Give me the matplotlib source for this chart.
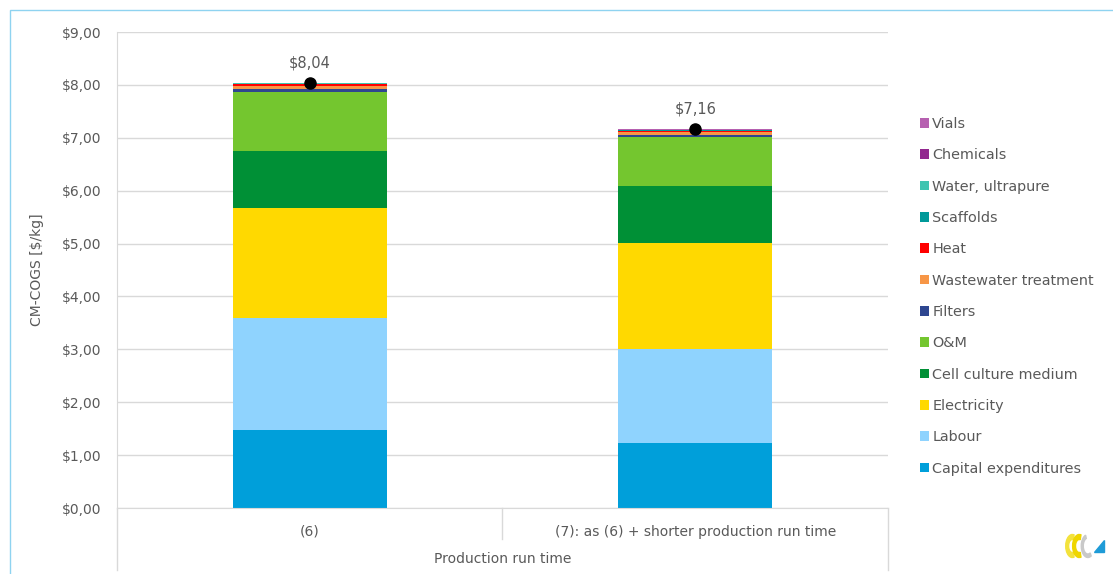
import matplotlib.pyplot as plt
from matplotlib.patches import Rectangle, Wedge, Polygon

categories = ['(6)', '(7): as (6) + shorter production run time']
components = ['Capital expenditures', 'Labour', 'Electricity', 'Cell culture medium', 'O&M',
              'Filters', 'Wastewater treatment', 'Heat', 'Scaffolds', 'Water, ultrapure',
              'Chemicals', 'Vials']
colors = ['#009FDA', '#8FD3FE', '#FFD900', '#009036', '#74C62F',
          '#2E4690', '#F79646', '#FF0000', '#009999', '#40C4B0',
          '#92278F', '#B660B0']

capex = [1.48, 1.22]
labour = [2.12, 1.78]
electricity = [2.07, 2.01]
medium = [1.08, 1.08]
om = [1.12, 0.93]
filters = [0.05, 0.04]
wastewater = [0.05, 0.04]
heat = [0.04, 0.03]
scaffolds = [0.01, 0.01]
water = [0.01, 0.01]
chemicals = [0.005, 0.005]
vials = [0.005, 0.005]
totals = [8.04, 7.16]
total_labels = ['$8,04', '$7,16']

series = [capex, labour, electricity, medium, om, filters, wastewater, heat,
          scaffolds, water, chemicals, vials]

grey = '#595959'
plt.rcParams['font.family'] = 'DejaVu Sans'
plt.rcParams['font.size'] = 10

fig = plt.figure(figsize=(11.13, 5.74), dpi=100)
ax = fig.add_axes([117 / 1113, 66 / 574, 771 / 1113, 476 / 574])

x = list(range(len(categories)))
bottom = [0.0] * len(categories)
handles = []
for name, vals, c in zip(components, series, colors):
    b = ax.bar(x, vals, 0.4, bottom=bottom, color=c, label=name, zorder=2)
    handles.append(b)
    bottom = [bt + v for bt, v in zip(bottom, vals)]

ax.plot(x, totals, 'o', color='black', markersize=8, zorder=3)
for xi, t, lab in zip(x, totals, total_labels):
    ax.annotate(lab, (xi, t), xytext=(0, 9), textcoords='offset points',
                ha='center', va='bottom', color=grey, fontsize=10.5)

ax.set_xlim(-0.5, 1.5)
ax.set_ylim(0, 9)
ax.set_yticks(range(10))
ax.set_yticklabels(['$%d,00' % v for v in range(10)])
ax.yaxis.grid(True, color='#D9D9D9', linewidth=1, zorder=0)
ax.set_axisbelow(True)
ax.tick_params(axis='y', length=0, colors=grey, pad=11, labelsize=10)
ax.tick_params(axis='x', length=0, colors=grey, pad=12, labelsize=10)
ax.set_xticks(x)
ax.set_xticklabels(categories)
for s in ['top', 'right']:
    ax.spines[s].set_visible(False)
ax.spines['left'].set_color('#D9D9D9')
ax.spines['bottom'].set_color('#D9D9D9')
ax.set_ylabel('CM-COGS [$/kg]', color=grey, fontsize=10, labelpad=13)

# category separators below the axis
for xs, yend in [(0, -0.13), (0.5, -0.065), (1, -0.13)]:
    ax.plot([xs, xs], [0, yend], transform=ax.transAxes, color='#D9D9D9',
            linewidth=1, clip_on=False)
ax.text(0.5, -0.107, 'Production run time', transform=ax.transAxes,
        ha='center', va='center', color=grey, fontsize=10)

leg = fig.legend(handles[::-1], components[::-1], loc='upper left',
                 bbox_to_anchor=(907 / 1113, 1 - 104 / 574), frameon=False,
                 handlelength=0.65, handleheight=0.65, handletextpad=0.2,
                 labelspacing=1.2, fontsize=10.4)
for t in leg.get_texts():
    t.set_color(grey)

# chart border
fig.patches.append(Rectangle((10 / 1113, -0.1), 1.2, 1 - 10 / 574 + 0.1,
                             transform=fig.transFigure, fill=False,
                             edgecolor='#8FD3F0', linewidth=1))

# small logo, bottom right
lg = fig.add_axes([1062 / 1113, 14 / 574, 46 / 1113, 28 / 574])
lg.set_xlim(0, 80)
lg.set_ylim(0, 28)
lg.axis('off')
lg.add_patch(Wedge((18, 14), 11.5, 75, 285, width=5, color='#F3E23C'))
lg.add_patch(Wedge((30, 14), 11.5, 75, 285, width=5, color='#EFD600'))
lg.add_patch(Wedge((45, 14), 11.5, 110, 300, width=3.5, color='#C9C9C9'))
lg.add_patch(Polygon([(56, 8), (73, 8), (73, 20)], color='#1E9BD7'))

fig.savefig('out.png', dpi=100)
